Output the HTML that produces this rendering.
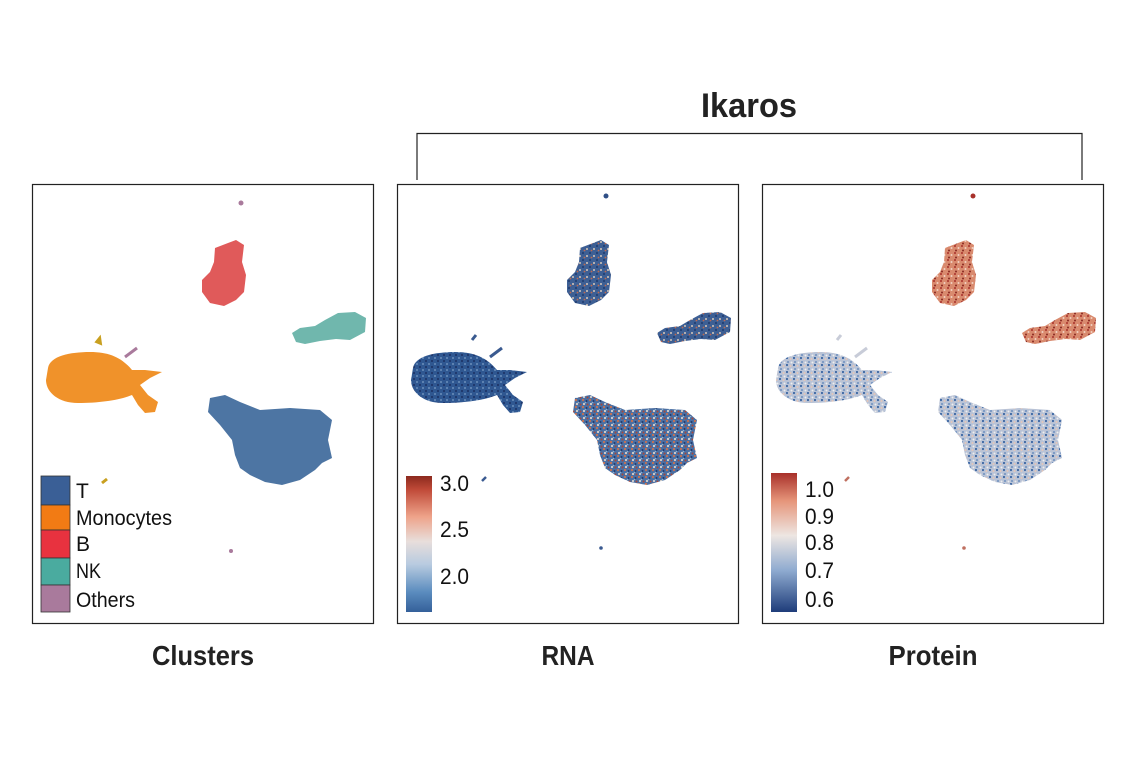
<!DOCTYPE html>
<html><head><meta charset="utf-8"><style>
body{margin:0;background:#fff;}
svg{display:block;font-family:"Liberation Sans Narrow","Liberation Sans",sans-serif;}
</style></head><body>
<svg width="1141" height="768" viewBox="0 0 1141 768" xmlns="http://www.w3.org/2000/svg">
<defs>
<pattern id="rna" width="7" height="7" patternUnits="userSpaceOnUse">
<rect width="7" height="7" fill="#4a6fa3"/>
<circle cx="1" cy="1" r="1.1" fill="#c9704f"/>
<circle cx="4.5" cy="2" r="1" fill="#1f3a6e"/>
<circle cx="2" cy="5" r="1.1" fill="#d8d2cc"/>
<circle cx="5.5" cy="5.5" r="1" fill="#a8483a"/>
<circle cx="3.5" cy="3.5" r="0.8" fill="#8fb0d0"/>
</pattern>
<pattern id="rnaB" width="7" height="7" patternUnits="userSpaceOnUse">
<rect width="7" height="7" fill="#3d5f94"/>
<circle cx="1" cy="1" r="1" fill="#1f3a6e"/>
<circle cx="5" cy="4" r="1" fill="#d9c8b8"/>
<circle cx="2.5" cy="5.5" r="0.9" fill="#c26a4e"/>
</pattern>
<pattern id="rnaM" width="6" height="6" patternUnits="userSpaceOnUse">
<rect width="6" height="6" fill="#2f5791"/>
<circle cx="1" cy="1" r="1" fill="#1a2f62"/>
<circle cx="4" cy="4" r="0.9" fill="#7d9fc7"/>
</pattern>
<pattern id="prot" width="7" height="7" patternUnits="userSpaceOnUse">
<rect width="7" height="7" fill="#b9c3d6"/>
<circle cx="1" cy="1" r="1.1" fill="#3e68a4"/>
<circle cx="4.5" cy="2" r="1" fill="#e6c6b8"/>
<circle cx="2" cy="5" r="1" fill="#6d8fbf"/>
<circle cx="5.5" cy="5.5" r="1" fill="#eeeeee"/>
</pattern>
<pattern id="protR" width="7" height="7" patternUnits="userSpaceOnUse">
<rect width="7" height="7" fill="#d98a6e"/>
<circle cx="1" cy="1" r="1" fill="#a8302a"/>
<circle cx="4.5" cy="3" r="1" fill="#f2d2c2"/>
<circle cx="2" cy="5.5" r="1" fill="#8a2a22"/>
</pattern>
<linearGradient id="gR" x1="0" y1="0" x2="0" y2="1">
<stop offset="0" stop-color="#8c2a1e"/><stop offset="0.1" stop-color="#c04a38"/><stop offset="0.3" stop-color="#eea38a"/><stop offset="0.48" stop-color="#e8dedb"/><stop offset="0.65" stop-color="#b8cbe0"/><stop offset="0.85" stop-color="#5c8dbf"/><stop offset="1" stop-color="#34609a"/>
</linearGradient>
<linearGradient id="gP" x1="0" y1="0" x2="0" y2="1">
<stop offset="0" stop-color="#a8302a"/><stop offset="0.2" stop-color="#e6957a"/><stop offset="0.45" stop-color="#ede6e2"/><stop offset="0.7" stop-color="#8fabd0"/><stop offset="1" stop-color="#1e3c7a"/>
</linearGradient>
<path id="B" d="M215,248 L228,243 L236,240 L244,245 L242,262 L246,275 L244,292 L236,300 L224,306 L210,303 L202,292 L202,280 L210,272 L214,262 Z"/>
<path id="NK" d="M292,333 L300,328 L315,326 L325,320 L338,313 L355,312 L366,318 L365,332 L350,340 L336,339 L320,341 L305,344 L296,342 Z"/>
<path id="M" d="M48,368 C50,356 70,352 90,352 C110,352 122,358 132,370 L145,370 L162,372 L150,378 L140,385 L148,395 L158,402 L155,412 L145,413 L138,405 L132,395 C120,400 100,403 78,403 C58,403 46,392 46,380 Z"/>
<path id="T" d="M210,398 L225,395 L240,402 L260,410 L290,408 L320,410 L332,420 L328,440 L332,458 L322,463 L315,470 L300,480 L282,485 L265,482 L250,475 L240,468 L235,455 L232,440 L220,425 L208,412 Z"/>
</defs>
<g fill="none" stroke="#222" stroke-width="1.2">
<rect x="32.5" y="184.5" width="341" height="439"/>
<rect x="397.5" y="184.5" width="341" height="439"/>
<rect x="762.5" y="184.5" width="341" height="439"/>
<path d="M417,180 V133.5 H1082 V180"/>
</g>
<use href="#B" fill="#e05a5a"/>
<use href="#NK" fill="#70b7ad"/>
<use href="#M" fill="#f0922a"/>
<use href="#T" fill="#4d75a3"/>
<circle cx="241" cy="203" r="2.5" fill="#a97a9c"/>
<path d="M125,357 L137,348" stroke="#a97a9c" stroke-width="3"/>
<path d="M96,342 L100,337 L101,344 Z" fill="#c9a020" stroke="#c9a020" stroke-width="2"/>
<path d="M102,483 L107,479" stroke="#c9a020" stroke-width="3"/>
<circle cx="231" cy="551" r="2" fill="#a97a9c"/>
<g stroke="#333" stroke-width="0.8">
<rect x="41" y="476" width="29" height="29" fill="#3a5f96"/>
<rect x="41" y="505" width="29" height="25" fill="#f27b14"/>
<rect x="41" y="530" width="29" height="28" fill="#e8323f"/>
<rect x="41" y="558" width="29" height="27" fill="#4aab9f"/>
<rect x="41" y="585" width="29" height="27" fill="#a97a9c"/>
</g>
<g font-size="21" fill="#111">
<text x="76" y="498">T</text><text x="76" y="525" textLength="96" lengthAdjust="spacingAndGlyphs">Monocytes</text><text x="76" y="551">B</text><text x="76" y="578" textLength="25" lengthAdjust="spacingAndGlyphs">NK</text><text x="76" y="607" textLength="59" lengthAdjust="spacingAndGlyphs">Others</text>
</g>
<g transform="translate(365,0)">
<use href="#B" fill="url(#rnaB)"/>
<use href="#NK" fill="url(#rnaB)"/>
<use href="#M" fill="url(#rnaM)"/>
<use href="#T" fill="url(#rna)"/>
<circle cx="241" cy="196" r="2.5" fill="#2f4f86"/>
<path d="M125,357 L137,348" stroke="#3a5a90" stroke-width="3"/>
<path d="M107,340 L111,335" stroke="#3a5a90" stroke-width="3"/>
<path d="M117,481 L121,477" stroke="#3a5a90" stroke-width="2.5"/>
<circle cx="236" cy="548" r="1.8" fill="#3a5a90"/>
</g>
<rect x="406" y="476" width="26" height="136" fill="url(#gR)"/>
<g font-size="22" fill="#111"><text x="440" y="491" textLength="29" lengthAdjust="spacingAndGlyphs">3.0</text><text x="440" y="537" textLength="29" lengthAdjust="spacingAndGlyphs">2.5</text><text x="440" y="584" textLength="29" lengthAdjust="spacingAndGlyphs">2.0</text></g>
<g transform="translate(730,0)">
<use href="#B" fill="url(#protR)"/>
<use href="#NK" fill="url(#protR)"/>
<use href="#M" fill="url(#prot)"/>
<use href="#T" fill="url(#prot)"/>
<circle cx="243" cy="196" r="2.5" fill="#a8302a"/>
<path d="M125,357 L137,348" stroke="#c8ccd8" stroke-width="3"/>
<path d="M107,340 L111,335" stroke="#c8ccd8" stroke-width="3"/>
<path d="M115,481 L119,477" stroke="#c07060" stroke-width="2.5"/>
<circle cx="234" cy="548" r="1.8" fill="#c07060"/>
</g>
<rect x="771" y="473" width="26" height="139" fill="url(#gP)"/>
<g font-size="22" fill="#111"><text x="805" y="497" textLength="29" lengthAdjust="spacingAndGlyphs">1.0</text><text x="805" y="524" textLength="29" lengthAdjust="spacingAndGlyphs">0.9</text><text x="805" y="550" textLength="29" lengthAdjust="spacingAndGlyphs">0.8</text><text x="805" y="578" textLength="29" lengthAdjust="spacingAndGlyphs">0.7</text><text x="805" y="607" textLength="29" lengthAdjust="spacingAndGlyphs">0.6</text></g>
<g font-weight="bold" fill="#222" text-anchor="middle">
<text x="203" y="665" font-size="28" textLength="102" lengthAdjust="spacingAndGlyphs">Clusters</text>
<text x="568" y="665" font-size="28" textLength="53" lengthAdjust="spacingAndGlyphs">RNA</text>
<text x="933" y="665" font-size="28" textLength="89" lengthAdjust="spacingAndGlyphs">Protein</text>
<text x="749" y="117" font-size="34" textLength="96" lengthAdjust="spacingAndGlyphs">Ikaros</text>
</g>
</svg>
</body></html>
